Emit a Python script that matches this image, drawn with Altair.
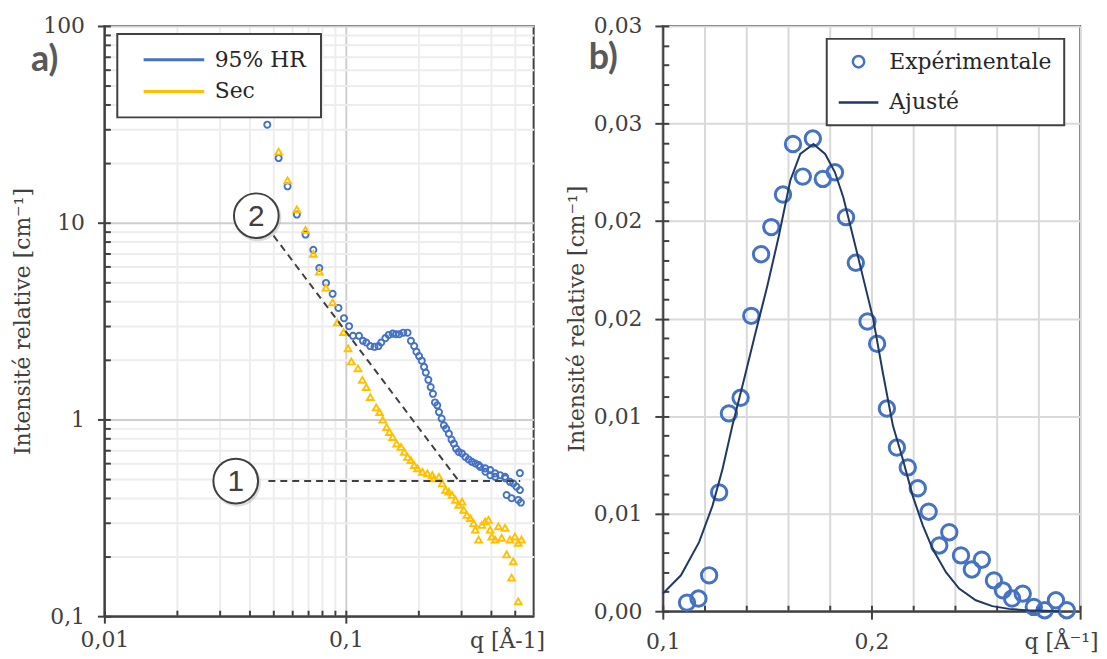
import altair as alt
import pandas as pd

# ---------------- Panel a) : log-log curves ----------------
hr_q = [0.0473, 0.0527, 0.0574, 0.0627, 0.0681, 0.0734, 0.0777, 0.0828, 0.0882, 0.0932,
        0.0983, 0.1032, 0.1071, 0.1134, 0.1178, 0.1216, 0.1263, 0.1315, 0.1366, 0.1402,
        0.1459, 0.1506, 0.1564, 0.1615, 0.1666, 0.1730, 0.1802, 0.1861, 0.1920, 0.1962,
        0.2012, 0.2065, 0.2110, 0.2145, 0.2198, 0.2248, 0.2297, 0.2342, 0.2393, 0.2432,
        0.2495, 0.2550, 0.2605, 0.2673, 0.2742, 0.2803, 0.2864, 0.2938, 0.3031, 0.3130,
        0.3228, 0.3331, 0.3440, 0.3549, 0.3607, 0.3781, 0.3790, 0.3964, 0.3970, 0.4156,
        0.4165, 0.4357, 0.4567, 0.4580, 0.4637, 0.4788, 0.4861, 0.4940, 0.5096, 0.5179,
        0.5263, 0.5263, 0.5313]
hr_i = [31.5, 21.3, 15.3, 11.0, 8.7, 7.28, 5.88, 4.94, 4.35, 3.69,
        3.27, 2.98, 2.66, 2.66, 2.51, 2.46, 2.36, 2.34, 2.36, 2.46,
        2.59, 2.69, 2.73, 2.71, 2.71, 2.76, 2.76, 2.51, 2.36, 2.21,
        2.10, 1.99, 1.85, 1.73, 1.59, 1.46, 1.35, 1.22, 1.18, 1.09,
        1.01, 0.933, 0.898, 0.847, 0.790, 0.754, 0.711, 0.684, 0.671, 0.645,
        0.626, 0.609, 0.597, 0.586, 0.574, 0.564, 0.542, 0.553, 0.521, 0.532,
        0.511, 0.521, 0.511, 0.502, 0.413, 0.482, 0.398, 0.473, 0.455, 0.390,
        0.534, 0.438, 0.378]

sec_q = [0.0527, 0.0574, 0.0627, 0.0681, 0.0734, 0.0777, 0.0828, 0.0882, 0.0923, 0.0979,
         0.1022, 0.1055, 0.1123, 0.1171, 0.1216, 0.1263, 0.1337, 0.1379, 0.1423, 0.1477,
         0.1516, 0.1564, 0.1624, 0.1693, 0.1747, 0.1802, 0.1861, 0.1920, 0.1981, 0.2077,
         0.2177, 0.2282, 0.2320, 0.2432, 0.2508, 0.2591, 0.2673, 0.2757, 0.2848, 0.2938,
         0.3031, 0.3080, 0.3177, 0.3281, 0.3385, 0.3440, 0.3549, 0.3661, 0.3781, 0.3900,
         0.3964, 0.4024, 0.4156, 0.4287, 0.4423, 0.4567, 0.4637, 0.4788, 0.4861, 0.4940,
         0.5020, 0.5179, 0.5180, 0.5343]
sec_i = [23.0, 16.4, 11.7, 9.19, 6.95, 5.64, 4.67, 3.94, 3.11, 2.78,
         2.30, 1.97, 1.82, 1.59, 1.46, 1.30, 1.15, 1.09, 0.997, 0.915,
         0.863, 0.814, 0.754, 0.725, 0.684, 0.645, 0.621, 0.586, 0.564, 0.542,
         0.532, 0.521, 0.502, 0.511, 0.473, 0.438, 0.429, 0.413, 0.390, 0.368,
         0.382, 0.347, 0.327, 0.315, 0.297, 0.275, 0.245, 0.291, 0.303, 0.309,
         0.275, 0.254, 0.245, 0.286, 0.250, 0.281, 0.206, 0.245, 0.157, 0.190,
         0.254, 0.236, 0.119, 0.245]

series_names = ["95% HR", "Sec"]
series_colors = ["#4472C4", "#FFC000"]

# dashed guide lines and numbered markers
guide_id = [1, 1, 2, 2]
guide_q = [0.0478, 0.528, 0.0502, 0.294]
guide_i = [0.486, 0.486, 8.59, 0.486]
marker_q = [0.0350, 0.0426]
marker_i = [0.486, 10.85]
marker_txt = ["1", "2"]

# ---------------- Panel b) : linear peak ----------------
exp_q = [0.1116, 0.1171, 0.1222, 0.1270, 0.1317, 0.1373, 0.1424, 0.1471, 0.1520, 0.1576,
         0.1624, 0.1671, 0.1719, 0.1767, 0.1825, 0.1878, 0.1925, 0.1981, 0.2027, 0.2074,
         0.2122, 0.2174, 0.2222, 0.2274, 0.2325, 0.2373, 0.2429, 0.2481, 0.2529, 0.2587,
         0.2630, 0.2674, 0.2725, 0.2778, 0.2830, 0.2884, 0.2936]
exp_i = [0.00044, 0.00065, 0.00184, 0.00609, 0.01014, 0.01094, 0.01514, 0.0183, 0.01969, 0.02136,
         0.02395, 0.02228, 0.02423, 0.02216, 0.0225, 0.0202, 0.01786, 0.01485, 0.01371, 0.01039,
         0.00839, 0.00737, 0.0063, 0.0051, 0.00337, 0.00405, 0.00286, 0.00214, 0.00264, 0.00158,
         0.00107, 0.00065, 0.0009, 0.00022, 0.00005, 0.00056, 0.00005]
fit_q = [0.100, 0.1087, 0.1174, 0.1238, 0.1286, 0.1333, 0.1389, 0.1444, 0.1500, 0.1555,
         0.1611, 0.1659, 0.1722, 0.1778, 0.1825, 0.1865, 0.1912, 0.1960, 0.2008, 0.2055,
         0.2103, 0.2150, 0.2198, 0.2246, 0.2293, 0.2357, 0.2420, 0.2500, 0.2579, 0.2659,
         0.2738, 0.2833, 0.2900]
fit_i = [0.0009, 0.00184, 0.00354, 0.0054, 0.00728, 0.00949, 0.01187, 0.01426, 0.01663, 0.01918,
         0.02208, 0.02344, 0.02395, 0.02344, 0.0225, 0.02122, 0.0192, 0.0171, 0.0150, 0.0122,
         0.0095, 0.0078, 0.0059, 0.0044, 0.0032, 0.0020, 0.00116, 0.00056, 0.00026, 0.00012,
         0.00005, 0.00002, 0.0]
b_names = ["Expérimentale", "Ajusté"]
b_colors = ["#4472C4", "#1F3864"]

panel_labels = ["a)", "b)"]

# ---------------- ticks ----------------
left_x_ticks = [0.01, 0.02, 0.03, 0.04, 0.05, 0.06, 0.07, 0.08, 0.09, 0.1, 0.2, 0.3, 0.4, 0.5]
left_x_major = [0.01, 0.1]
left_y_ticks = [0.1, 0.2, 0.3, 0.4, 0.5, 0.6, 0.7, 0.8, 0.9,
                1, 2, 3, 4, 5, 6, 7, 8, 9,
                10, 20, 30, 40, 50, 60, 70, 80, 90, 100]
left_y_major = [0.1, 1, 10, 100]
right_x_ticks = [0.1, 0.12, 0.14, 0.16, 0.18, 0.2, 0.22, 0.24, 0.26, 0.28, 0.3]
right_x_major = [0.1, 0.2, 0.3]
right_x_labels = [0.1, 0.2]
right_y_ticks = [0.0, 0.005, 0.01, 0.015, 0.02, 0.025, 0.03]
right_y_minor = [0.0, 0.001, 0.002, 0.003, 0.004, 0.005, 0.006, 0.007, 0.008, 0.009,
                 0.01, 0.011, 0.012, 0.013, 0.014, 0.015, 0.016, 0.017, 0.018, 0.019,
                 0.02, 0.021, 0.022, 0.023, 0.024, 0.025, 0.026, 0.027, 0.028, 0.029, 0.03]

# ---------------- layout constants ----------------
LW, LH = 432, 594
RW, RH = 420, 589
INK = "#404040"
FONT = "DejaVu Serif"


def in_list(vals):
    return "indexof([" + ",".join(repr(v) for v in vals) + "], datum.value) >= 0"


def cond(test, a, b):
    return {"condition": {"test": test, "value": a}, "value": b}


xs_left = alt.Scale(type="log", domain=[0.01, 0.6], nice=False)
ys_left = alt.Scale(type="log", domain=[0.1, 100], nice=False)
xs_right = alt.Scale(domain=[0.1, 0.3], nice=False, zero=False)
ys_right = alt.Scale(domain=[0, 0.03], nice=False)

# ---------- panel a ----------
x_main_left = alt.X("q:Q", scale=xs_left, axis=alt.Axis(
    values=left_x_ticks, grid=True,
    gridColor=cond(in_list(left_x_major), "#cfcfcf", "#ededed"), gridWidth=2,
    tickOpacity=cond(in_list(left_x_major), 1, 0), tickSize=7,
    labelExpr=in_list(left_x_major) + " ? replace(toString(datum.value), '.', ',') : ''",
    labelPadding=7, labelFlush=False, labelOverlap=False,
    title="q [Å-1]", titleAnchor="end", titleAlign="right", titleBaseline="top",
    titleX=LW + 11, titleY=15))
y_main_left = alt.Y("I:Q", scale=ys_left, axis=alt.Axis(
    values=left_y_ticks, grid=True,
    gridColor=cond(in_list(left_y_major), "#cfcfcf", "#ededed"), gridWidth=2,
    tickOpacity=cond(in_list(left_y_major), 1, 0), tickSize=7,
    labelExpr=in_list(left_y_major) + " ? replace(toString(datum.value), '.', ',') : ''",
    labelPadding=13, labelFlush=False, labelOverlap=False,
    title="Intensité relative [cm⁻¹]", titlePadding=8))
x_in_left = alt.X("q:Q", scale=xs_left, axis=alt.Axis(
    orient="top", offset=-LH, values=left_x_ticks, labels=False, grid=False,
    domain=False, tickSize=6, title=None))
y_in_left = alt.Y("I:Q", scale=ys_left, axis=alt.Axis(
    orient="right", offset=-LW, values=left_y_ticks, labels=False, grid=False,
    domain=False, tickSize=6, title=None))
x_plain_left = alt.X("q:Q", scale=xs_left, axis=None)
y_plain_left = alt.Y("I:Q", scale=ys_left, axis=None)

legend_left = alt.Legend(
    title=None, orient="none", legendX=13, legendY=8,
    symbolType="M-6.1,0H6.1", symbolSize=100, symbolStrokeWidth=3,
    padding=15, rowPadding=10, symbolOffset=31, labelOffset=30, labelLimit=400,
    labelFont=FONT, labelFontSize=22, fillColor="white", strokeColor=INK)
color_left = alt.Color("series:N", scale=alt.Scale(domain=series_names, range=series_colors),
                       legend=legend_left)

df_hr = pd.DataFrame({"q": hr_q, "I": hr_i, "series": series_names[0]})
df_sec = pd.DataFrame({"q": sec_q, "I": sec_i, "series": series_names[1]})
df_guides = pd.DataFrame({"q": guide_q, "I": guide_i, "g": guide_id})
df_markers = pd.DataFrame({"q": marker_q, "I": marker_i, "t": marker_txt})

pts_hr = alt.Chart(df_hr).mark_point(shape="circle", filled=False, size=38, strokeWidth=1.9,
                                     opacity=1).encode(x=x_main_left, y=y_main_left, color=color_left)
pts_sec = alt.Chart(df_sec).mark_point(shape="triangle-up", filled=False, size=46, strokeWidth=1.9,
                                       opacity=1).encode(x=x_plain_left, y=y_plain_left, color=color_left)
guides = alt.Chart(df_guides).mark_line(color=INK, strokeDash=[7, 5], strokeWidth=2).encode(
    x=x_in_left, y=y_in_left, detail="g:N")
mk_shadow = alt.Chart(df_markers).mark_point(shape="circle", filled=True, color="#9a9a9a", opacity=0.35,
                                             size=2250, xOffset=1.5, yOffset=2).encode(
    x=x_plain_left, y=y_plain_left)
mk_circle = alt.Chart(df_markers).mark_point(shape="circle", filled=True, fill="white", stroke=INK,
                                             strokeWidth=2, opacity=1, size=2025).encode(
    x=x_plain_left, y=y_plain_left)
mk_text = alt.Chart(df_markers).mark_text(font="Liberation Sans", fontSize=30, color=INK,
                                          align="center", baseline="middle", dy=1).encode(
    x=x_plain_left, y=y_plain_left, text="t:N")
lab_a = alt.Chart(pd.DataFrame({"t": [panel_labels[0]]})).mark_text(
    font="Lato", fontWeight="bold", fontSize=36, color="#595959", align="center", baseline="middle").encode(
    x=alt.value(-60), y=alt.value(34), text="t:N")

left = alt.layer(pts_hr, pts_sec, guides, mk_shadow, mk_circle, mk_text, lab_a).resolve_axis(
    x="independent", y="independent").properties(width=LW, height=LH)

# ---------- panel b ----------
x_main_right = alt.X("q:Q", scale=xs_right, axis=alt.Axis(
    values=right_x_ticks, grid=True, gridColor="#d9d9d9", gridWidth=2,
    tickOpacity=cond(in_list(right_x_major), 1, 0), tickSize=8,
    labelExpr=in_list(right_x_labels) + " ? replace(format(datum.value, '.1f'), '.', ',') : ''",
    labelPadding=13, labelFlush=False, labelOverlap=False,
    title="q [Å⁻¹]", titleAnchor="end", titleAlign="right", titleBaseline="top",
    titleX=RW + 18, titleY=21))
y_main_right = alt.Y("I:Q", scale=ys_right, axis=alt.Axis(
    values=right_y_ticks, grid=True, gridColor="#d9d9d9", gridWidth=2, tickSize=8,
    labelExpr="replace(format(datum.value + 1e-9, '.2f'), '.', ',')",
    labelPadding=13, labelFlush=False, labelOverlap=False,
    title="Intensité relative [cm⁻¹]", titlePadding=5))
x_in_right = alt.X("q:Q", scale=xs_right, axis=alt.Axis(
    orient="top", offset=-RH, values=right_x_ticks, labels=False, grid=False,
    domain=False, tickSize=6, title=None))
y_in_right = alt.Y("I:Q", scale=ys_right, axis=alt.Axis(
    orient="right", offset=-RW, values=right_y_minor, labels=False, grid=False,
    domain=False, tickSize=6, title=None))

legend_right = alt.Legend(
    title=None, orient="none", legendX=165, legendY=13,
    symbolSize=130, symbolStrokeWidth=2.5, padding=12, rowPadding=19,
    symbolOffset=9, labelOffset=20, labelLimit=400, labelFont=FONT, labelFontSize=22,
    fillColor="white", strokeColor=INK)
color_right = alt.Color("series:N", scale=alt.Scale(domain=b_names, range=b_colors), legend=legend_right)
shape_right = alt.Shape("series:N", scale=alt.Scale(domain=b_names, range=["circle", "M-3.5,0H3.5"]),
                        legend=legend_right)

df_exp = pd.DataFrame({"q": exp_q, "I": exp_i, "series": b_names[0]})
df_fit = pd.DataFrame({"q": fit_q, "I": fit_i})

pts_exp = alt.Chart(df_exp).mark_point(filled=False, size=240, strokeWidth=3, opacity=1).encode(
    x=x_main_right, y=y_main_right, color=color_right, shape=shape_right)
fit_line = alt.Chart(df_fit).mark_line(color=b_colors[1], strokeWidth=2).encode(
    x=x_in_right, y=y_in_right)
lab_b = alt.Chart(pd.DataFrame({"t": [panel_labels[1]]})).mark_text(
    font="Lato", fontWeight="bold", fontSize=36, color="#595959", align="center", baseline="middle").encode(
    x=alt.value(-60), y=alt.value(32), text="t:N")

right = alt.layer(pts_exp, fit_line, lab_b).resolve_axis(
    x="independent", y="independent").properties(width=RW, height=RH)

chart = alt.hconcat(left, right, spacing=19).resolve_scale(
    color="independent", shape="independent"
).resolve_legend(
    color="independent", shape="independent"
).properties(
    padding={"left": 3, "top": 4, "right": 0, "bottom": 0}
).configure_view(stroke=INK, strokeWidth=2).configure_axis(
    domainColor=INK, domainWidth=2, tickColor=INK, tickWidth=2,
    labelFont=FONT, labelFontSize=22, labelColor=INK,
    titleFont=FONT, titleFontSize=22, titleFontWeight="normal", titleColor=INK
).configure_legend(
    labelFont=FONT, labelFontSize=22, labelColor="#262626", strokeWidth=2
)

chart.save("out.html", embed_options={"renderer": "svg", "actions": False})
